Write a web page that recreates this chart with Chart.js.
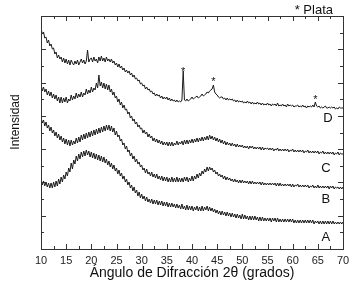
<!DOCTYPE html>
<html>
<head>
<meta charset="utf-8">
<script src="https://cdn.jsdelivr.net/npm/chart.js@4.4.1/dist/chart.umd.min.js"></script>
<style>
  html, body { margin: 0; padding: 0; background: #fff; }
  #wrap { width: 359px; height: 295px; }
</style>
</head>
<body>
<div id="wrap"><canvas id="myChart"></canvas></div>
<script>
// 2 theta scan (grados), paso 0.25
const angulos = [
    10,10.25,10.5,10.75, 11,11.25,11.5,11.75, 12,12.25,12.5,12.75, 13,13.25,13.5,13.75,
    14,14.25,14.5,14.75, 15,15.25,15.5,15.75, 16,16.25,16.5,16.75, 17,17.25,17.5,17.75,
    18,18.25,18.5,18.75, 19,19.25,19.5,19.75, 20,20.25,20.5,20.75, 21,21.25,21.5,21.75,
    22,22.25,22.5,22.75, 23,23.25,23.5,23.75, 24,24.25,24.5,24.75, 25,25.25,25.5,25.75,
    26,26.25,26.5,26.75, 27,27.25,27.5,27.75, 28,28.25,28.5,28.75, 29,29.25,29.5,29.75,
    30,30.25,30.5,30.75, 31,31.25,31.5,31.75, 32,32.25,32.5,32.75, 33,33.25,33.5,33.75,
    34,34.25,34.5,34.75, 35,35.25,35.5,35.75, 36,36.25,36.5,36.75, 37,37.25,37.5,37.75,
    38,38.25,38.5,38.75, 39,39.25,39.5,39.75, 40,40.25,40.5,40.75, 41,41.25,41.5,41.75,
    42,42.25,42.5,42.75, 43,43.25,43.5,43.75, 44,44.25,44.5,44.75, 45,45.25,45.5,45.75,
    46,46.25,46.5,46.75, 47,47.25,47.5,47.75, 48,48.25,48.5,48.75, 49,49.25,49.5,49.75,
    50,50.25,50.5,50.75, 51,51.25,51.5,51.75, 52,52.25,52.5,52.75, 53,53.25,53.5,53.75,
    54,54.25,54.5,54.75, 55,55.25,55.5,55.75, 56,56.25,56.5,56.75, 57,57.25,57.5,57.75,
    58,58.25,58.5,58.75, 59,59.25,59.5,59.75, 60,60.25,60.5,60.75, 61,61.25,61.5,61.75,
    62,62.25,62.5,62.75, 63,63.25,63.5,63.75, 64,64.25,64.5,64.75, 65,65.25,65.5,65.75,
    66,66.25,66.5,66.75, 67,67.25,67.5,67.75, 68,68.25,68.5,68.75, 69,69.25,69.5,69.75,
    70
]

// intensidades (u.a., curvas desplazadas), una fila = 2 grados
const serieD = [
    221,215,217,211, 212,206,209,203, 205,200,201,195, 197,191,194,190,
    192,187,191,186, 190,185,189,184, 189,186,184,188, 185,189,184,187,
    190,186,189,185, 188,199,187,190, 191,187,192,188, 190,186,192,188,
    193,188,191,187, 192,188,190,187, 190,186,188,184, 186,182,185,181,
    183,179,181,177, 179,176,178,174, 176,172,174,170, 171,168,169,165,
    166,163,164,160, 162,159,160,157, 158,155,156,153, 155,153,154,151,
    153,150,152,150, 152,149,151,148, 150,148,149,147, 149,147,148,147,
    149,178,149,148, 150,148,149,150, 152,150,151,152, 153,151,152,153,
    155,153,154,155, 157,156,158,159, 160,164,157,155, 154,152,151,152,
    152,150,151,149, 151,149,150,149, 150,148,149,147, 149,147,148,147,
    148,146,147,146, 148,146,147,145, 147,145,146,145, 147,145,146,144,
    146,144,145,144, 146,144,145,143, 145,144,145,143, 146,143,144,143,
    145,143,144,142, 145,143,144,143, 144,142,143,143, 144,142,143,142,
    144,142,143,141, 143,142,143,142, 144,142,147,143, 142,143,141,142,
    141,142,143,141, 141,142,141,142, 141,142,140,141, 140,142,141,141,
    141
]
const serieC = [
    165,158,162,157, 160,154,158,153, 157,151,155,150, 154,148,152,146,
    152,146,151,147, 152,146,150,148, 154,149,153,150, 156,151,155,152,
    157,152,156,154, 160,155,159,156, 162,157,161,159, 166,161,174,163,
    167,161,166,160, 165,159,164,157, 160,154,157,151, 153,147,150,144,
    147,141,144,139, 140,135,137,131, 133,128,130,125, 127,122,124,120,
    121,116,119,115, 117,112,115,111, 113,108,111,107, 110,106,109,105,
    108,104,107,104, 107,103,107,103, 107,103,106,104, 108,104,107,105,
    108,104,109,105, 109,105,109,106, 110,106,110,107, 111,107,111,108,
    112,108,112,109, 113,109,114,110, 113,109,112,108, 111,107,110,106,
    109,105,108,104, 107,104,106,103, 106,103,105,102, 105,102,104,102,
    104,101,103,101, 103,100,103,101, 103,100,102,100, 102,100,102,99,
    102,99,101,100, 101,99,101,99, 101,98,100,99, 101,98,100,98,
    100,98,100,98, 100,97,99,98, 100,97,99,97, 99,97,99,97,
    99,96,98,97, 99,96,98,96, 98,96,98,96, 98,95,97,96,
    98,95,97,95, 97,95,97,95, 97,94,96,95, 97,94,96,95,
    95
]
const serieB = [
    132,126,129,123, 127,121,124,118, 122,116,119,113, 117,111,115,109,
    113,107,111,105, 110,104,109,103, 109,104,108,105, 111,106,112,107,
    114,109,115,110, 116,111,117,112, 118,113,119,114, 120,115,121,116,
    122,117,123,118, 124,119,124,118, 123,117,121,114, 118,112,114,108,
    110,104,106,100, 103,97,99,93, 96,90,93,87, 90,85,87,82,
    84,79,81,76, 80,75,77,73, 77,72,75,71, 75,70,73,69,
    73,68,72,68, 72,67,71,67, 72,67,71,67, 72,67,71,67,
    71,67,72,68, 72,67,71,68, 73,68,73,70, 75,71,76,73,
    78,75,80,77, 82,78,82,79, 81,77,79,75, 77,73,75,72,
    74,70,73,69, 72,69,71,68, 70,67,70,67, 69,66,69,66,
    69,66,68,66, 68,65,68,65, 68,65,67,65, 67,65,67,64,
    67,64,66,64, 66,64,66,64, 66,64,66,63, 66,63,66,63,
    65,63,65,63, 65,63,65,62, 65,62,64,63, 65,62,64,62,
    64,62,64,62, 64,61,63,62, 64,61,63,61, 64,61,63,61,
    63,61,63,61, 63,60,63,61, 63,60,62,61, 62,60,62,60,
    62
]
const serieA = [
    69,64,68,63, 67,62,66,61, 66,61,67,62, 68,63,70,65,
    72,67,74,70, 77,73,81,77, 86,80,89,85, 93,88,95,90,
    97,92,98,93, 99,94,98,92, 97,91,96,90, 95,89,94,88,
    93,87,92,86, 90,84,88,82, 86,80,84,78, 81,75,79,73,
    76,70,73,67, 70,64,67,61, 64,58,62,56, 59,53,57,51,
    55,50,53,48, 52,47,50,46, 50,45,49,45, 49,44,48,44,
    48,43,47,43, 47,42,46,42, 46,42,45,41, 45,41,44,40,
    45,40,43,39, 44,39,43,39, 43,38,42,39, 43,38,42,38,
    43,38,42,39, 43,38,42,38, 41,37,40,36, 39,35,38,34,
    38,34,37,33, 37,33,36,32, 36,32,35,31, 35,31,34,30,
    35,30,34,30, 33,29,33,29, 33,29,33,29, 32,28,32,28,
    32,28,31,28, 31,28,31,27, 31,28,31,27, 31,27,30,27,
    30,27,30,27, 30,27,30,27, 30,26,29,26, 29,26,29,26,
    29,26,29,26, 29,26,29,26, 29,25,28,26, 28,25,28,25,
    28,25,28,25, 28,25,28,25, 28,25,27,25, 27,25,27,25,
    27
]

const etiquetas = ['D', 'C', 'B', 'A']
const etiquetaPos = [[67, 131], [66.6, 81], [66.6, 50], [66.6, 12]]
const picosPlata = [[38.25, 179], [44.25, 169], [64.5, 151]]
const xTicks = [10, 15, 20, 25, 30, 35, 40, 45, 50, 55, 60, 65, 70]

const FONT = "'Liberation Sans', Arial, sans-serif"

const toPoints = (serie) => serie.map((v, i) => ({ x: angulos[i], y: v }))

const makeSet = (label, serie) => ({
    label: label,
    data: toPoints(serie),
    borderColor: '#1a1a1a',
    borderWidth: 1,
    pointRadius: 0,
    tension: 0,
    fill: false
})

// frame, inward ticks and text annotations
const extras = {
    id: 'extras',
    afterDatasetsDraw(chart) {
        const { ctx, chartArea: ca, scales } = chart
        const xs = scales.x, ys = scales.y
        ctx.save()
        ctx.strokeStyle = '#333'
        ctx.lineWidth = 1
        ctx.strokeRect(Math.round(ca.left) + 0.5, Math.round(ca.top) + 0.5,
            Math.round(ca.right - ca.left), Math.round(ca.bottom - ca.top))

        ctx.beginPath()
        for (let a = 10; a <= 70; a += 2.5) {
            const px = Math.round(xs.getPixelForValue(a)) + 0.5
            const len = (a % 5 === 0) ? 5 : 3
            ctx.moveTo(px, ca.bottom); ctx.lineTo(px, ca.bottom - len)
            ctx.moveTo(px, ca.top); ctx.lineTo(px, ca.top + len)
        }
        const paso = 233 / 14
        for (let k = 0; k <= 14; k++) {
            const py = Math.round(ys.getPixelForValue(k * paso)) + 0.5
            const len = (k % 2 === 0) ? 5 : 3
            ctx.moveTo(ca.left, py); ctx.lineTo(ca.left + len, py)
            ctx.moveTo(ca.right, py); ctx.lineTo(ca.right - len, py)
        }
        ctx.stroke()

        ctx.fillStyle = '#111'
        ctx.textAlign = 'center'
        ctx.textBaseline = 'middle'
        ctx.font = '13px ' + FONT
        etiquetas.forEach((t, i) => {
            ctx.fillText(t, xs.getPixelForValue(etiquetaPos[i][0]), ys.getPixelForValue(etiquetaPos[i][1]))
        })

        ctx.font = '11px ' + FONT
        picosPlata.forEach(p => {
            ctx.fillText('*', xs.getPixelForValue(p[0]), ys.getPixelForValue(p[1]) + 2)
        })

        ctx.font = '13px ' + FONT
        ctx.textAlign = 'right'
        ctx.fillText('* Plata', ca.right - 10, ca.top - 6)

        ctx.font = '12px ' + FONT
        ctx.translate(16, 122)
        ctx.rotate(-Math.PI / 2)
        ctx.textAlign = 'center'
        ctx.fillText('Intensidad', 0, 0)
        ctx.restore()
    }
}

const config = {
    type: 'line',
    data: {
        datasets: [
            makeSet('D', serieD),
            makeSet('C', serieC),
            makeSet('B', serieB),
            makeSet('A', serieA)
        ]
    },
    options: {
        responsive: true,
        maintainAspectRatio: false,
        animation: false,
        layout: { padding: { top: 16, right: 16, left: 0, bottom: 0 } },
        plugins: { legend: { display: false }, tooltip: { enabled: false } },
        scales: {
            x: {
                type: 'linear',
                min: 10,
                max: 70,
                afterBuildTicks: (scale) => { scale.ticks = xTicks.map(v => ({ value: v })) },
                afterFit: (scale) => { scale.height = 46 },
                grid: { display: false, drawTicks: false },
                border: { display: false },
                ticks: { color: '#222', padding: 5, maxRotation: 0, font: { family: FONT, size: 11 } },
                title: {
                    display: true,
                    text: 'Ángulo de Difracción 2θ (grados)',
                    color: '#111',
                    font: { family: FONT, size: 14 },
                    padding: { top: 0, bottom: 13 }
                }
            },
            y: {
                min: 0,
                max: 233,
                afterFit: (scale) => { scale.width = 41 },
                grid: { display: false, drawTicks: false },
                border: { display: false },
                ticks: { display: false }
            }
        }
    },
    plugins: [extras]
}

const myChart = new Chart(document.getElementById('myChart'), config)
</script>
</body>
</html>
